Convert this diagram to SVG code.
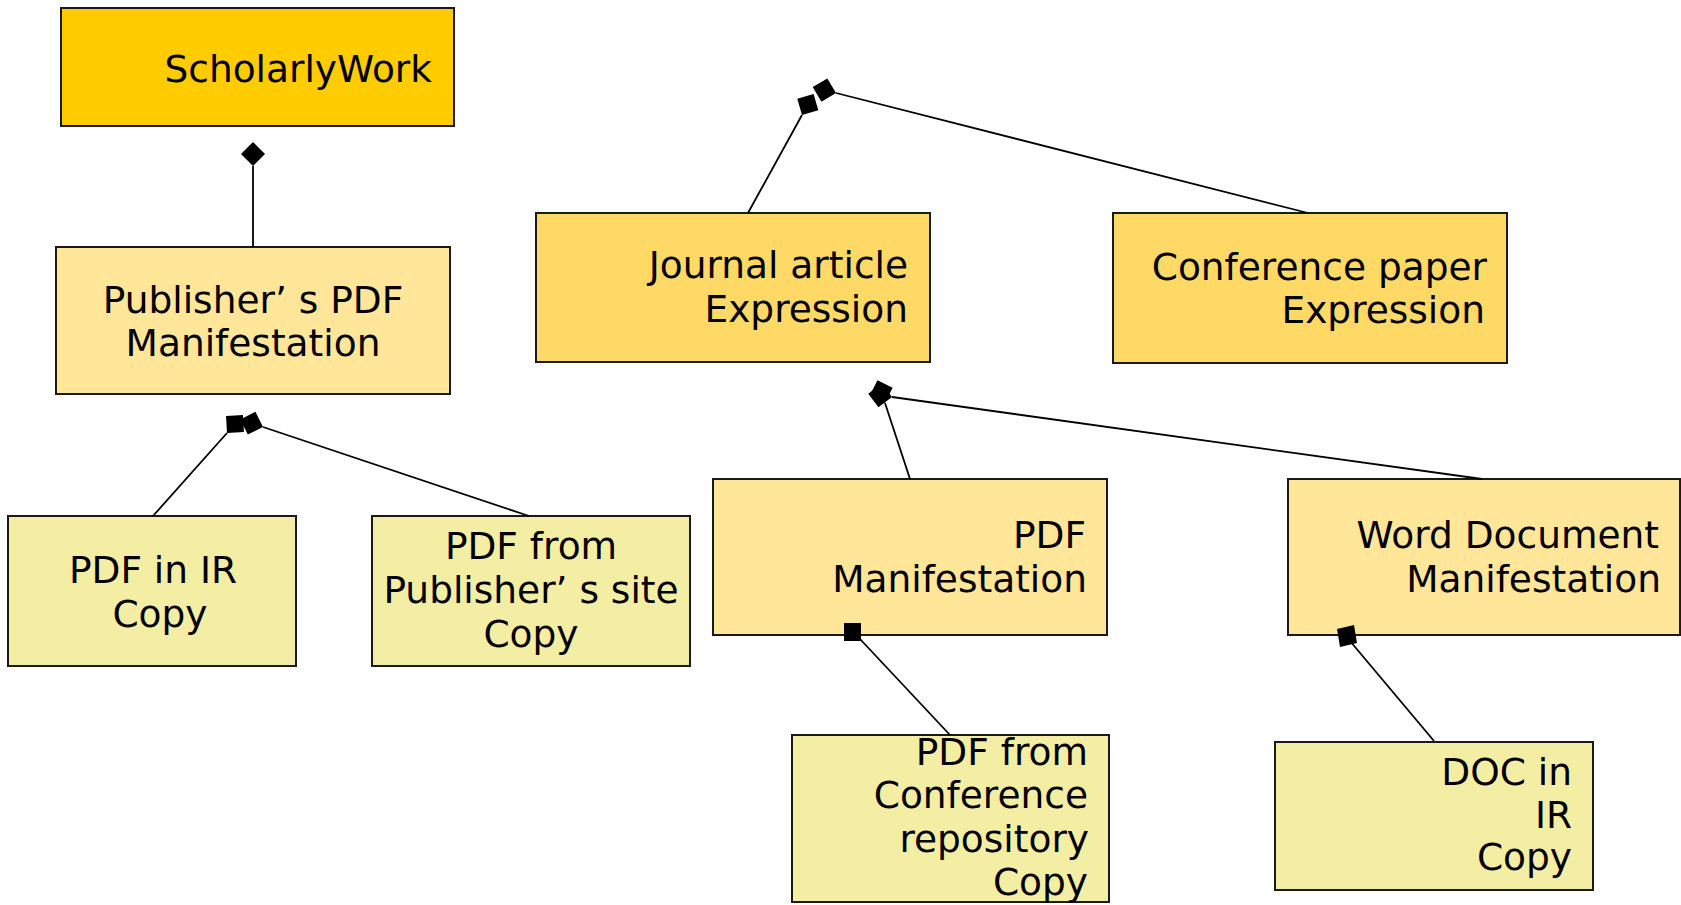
<svg xmlns="http://www.w3.org/2000/svg" width="1681" height="905" viewBox="0 0 1681 905">
<style>
  .box { stroke: #1a1a1a; stroke-width: 2; }
  .work { fill: #FFCC00; }
  .expr { fill: #FFD966; }
  .manif { fill: #FFE699; }
  .copy { fill: #F4EEA5; }
  text { font-family: "DejaVu Sans", Verdana, sans-serif; font-size: 37.5px; fill: #000; }
  .c { text-anchor: middle; }
  .r { text-anchor: end; }
  .conn line { stroke: #000; stroke-width: 1.8; marker-end: url(#diamond); }
  .conn line.plain { marker-end: none; }
</style>
<defs>
  <marker id="diamond" markerUnits="userSpaceOnUse" markerWidth="26" markerHeight="26" viewBox="0 0 26 26" refX="0" refY="12" orient="auto" overflow="visible">
    <path d="M0,12 L12,0 L24,12 L12,24 Z" fill="#000"/>
  </marker>
</defs>
<rect width="1681" height="905" fill="#fff"/>

<g id="scholarly-work">
  <rect class="box work" x="61" y="8" width="393" height="118"/>
  <text class="r" x="432" y="82">ScholarlyWork</text>
</g>

<g id="publisher-pdf-manifestation">
  <rect class="box manif" x="56" y="247" width="394" height="147"/>
  <text class="c" x="253" y="313">Publisher’ s PDF</text>
  <text class="c" x="253" y="356">Manifestation</text>
</g>

<g id="journal-article-expression">
  <rect class="box expr" x="536" y="213" width="394" height="149"/>
  <text class="r" x="908" y="278">Journal article</text>
  <text class="r" x="908" y="322">Expression</text>
</g>

<g id="conference-paper-expression">
  <rect class="box expr" x="1113" y="213" width="394" height="150"/>
  <text class="r" x="1487" y="280">Conference paper</text>
  <text class="r" x="1485" y="323">Expression</text>
</g>

<g id="pdf-in-ir-copy">
  <rect class="box copy" x="8" y="516" width="288" height="150"/>
  <text class="c" x="153" y="583">PDF in IR</text>
  <text class="c" x="160" y="627">Copy</text>
</g>

<g id="pdf-from-publisher-copy">
  <rect class="box copy" x="372" y="516" width="318" height="150"/>
  <text class="c" x="531" y="559">PDF from</text>
  <text class="c" x="531" y="603">Publisher’ s site</text>
  <text class="c" x="531" y="647">Copy</text>
</g>

<g id="pdf-manifestation">
  <rect class="box manif" x="713" y="479" width="394" height="156"/>
  <text class="r" x="1086" y="548">PDF</text>
  <text class="r" x="1087" y="592">Manifestation</text>
</g>

<g id="word-document-manifestation">
  <rect class="box manif" x="1288" y="479" width="392" height="156"/>
  <text class="r" x="1659" y="548">Word Document</text>
  <text class="r" x="1661" y="592">Manifestation</text>
</g>

<g id="pdf-from-conference-copy">
  <rect class="box copy" x="792" y="735" width="317" height="167"/>
  <text class="r" x="1088" y="765">PDF from</text>
  <text class="r" x="1088" y="808">Conference</text>
  <text class="r" x="1089" y="852">repository</text>
  <text class="r" x="1088" y="895">Copy</text>
</g>

<g id="doc-in-ir-copy">
  <rect class="box copy" x="1275" y="742" width="318" height="148"/>
  <text class="r" x="1572" y="785">DOC in</text>
  <text class="r" x="1572" y="828">IR</text>
  <text class="r" x="1572" y="870">Copy</text>
</g>

<g id="connectors" class="conn">
  <line x1="253" y1="247" x2="253" y2="166"/>
  <line x1="748" y1="213" x2="802" y2="115"/>
  <line x1="1308" y1="213" x2="836" y2="93"/>
  <line x1="153" y1="516" x2="227" y2="433"/>
  <line x1="529" y1="516" x2="263" y2="427"/>
  <line x1="910" y1="479" x2="885" y2="403"/>
  <line x1="1482" y1="479" x2="892" y2="397"/>
  <line class="plain" x1="950" y1="735" x2="860" y2="639"/>
  <rect x="844" y="623" width="17" height="18" fill="#000"/>
  <line class="plain" x1="1434" y1="741" x2="1350" y2="641"/>
  <polygon points="1337,629 1354,625 1357,643 1340,647" fill="#000"/>
</g>
</svg>
